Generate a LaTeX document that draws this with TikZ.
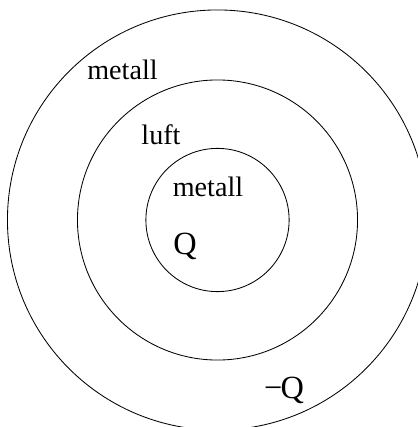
\documentclass[tikz,border=0pt]{standalone}
\usepackage{fontspec}
\setmainfont{Liberation Serif}
\usepackage{tikz}
\usetikzlibrary{positioning, calc}
\tikzset{
  sh-ring/.style={draw=black, line width=0.6pt},
  sh-label/.style={anchor=base, inner sep=0pt, font=\fontsize{20}{24}\selectfont},
  sh-charge/.style={sh-label, font=\fontsize{23}{28}\selectfont},
}

\begin{document}
\begin{tikzpicture}[x=0.025cm, y=-0.025cm]
  \useasboundingbox (0,0) rectangle (418,427);
  \coordinate (ctr) at (217.5,220);

  % shells
  \draw[sh-ring] (ctr) circle (5.25cm);
  \draw[sh-ring] (ctr) circle (3.5cm);
  \draw[sh-ring] (ctr) circle (1.79cm);

  \node[sh-label]  (outer) at (122.5,80)  {metall};
  \node[sh-label]  (gap)   at (161,144)   {luft};
  \node[sh-label]  (inner) at (208,196.5) {metall};
  \node[sh-charge] (qin)   at (185,254)   {Q};
  \node[sh-charge] (qout)  at (284,398)   {−\kern-0.06emQ};
\end{tikzpicture}
\end{document}
